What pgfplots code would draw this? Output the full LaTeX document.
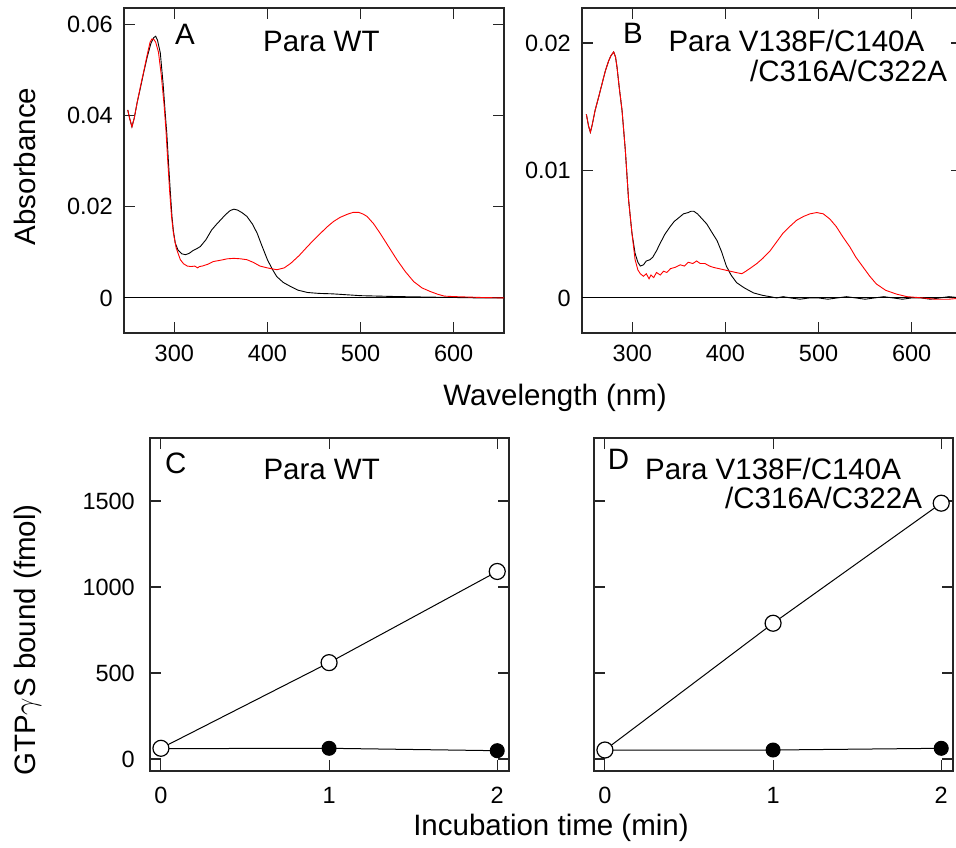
\documentclass[border=0pt]{standalone}
\usepackage{pgfplots}
\pgfplotsset{compat=1.18}
\usepackage{fontspec}
\setmainfont{Liberation Sans}
\newcommand{\lbl}{\fontsize{29.5bp}{34bp}\selectfont}
\newcommand{\tck}{\fontsize{23.5bp}{28bp}\selectfont}
\pgfplotsset{
  panel/.style={
    scale only axis,
    anchor=south west,
    axis line style={black!85, line width=1.4bp},
    tick style={black!85, line width=1.1bp},
    tick align=inside,
    major tick length=11bp,
    xtick pos=both, ytick pos=both,
    xticklabel pos=bottom, yticklabel pos=left,
    every tick label/.append style={font=\tck, inner sep=0pt, text=black},
    /pgf/number format/assume math mode=true,
    /pgf/number format/1000 sep={},
    clip=true,
  },
  spec/.style={panel, width=380bp, height=325bp, xmin=246, xmax=654,
    xtick={300,400,500,600},
    xticklabel style={yshift=-12bp},
    yticklabel style={xshift=-11bp},
  },
  gtp/.style={panel, width=359bp, height=333bp, xmin=-0.065, xmax=2.07,
    ymin=-70, ymax=1866,
    xtick={0,1,2}, ytick={0,500,1000,1500},
    xticklabel style={yshift=-16bp},
    yticklabel style={xshift=-15bp},
  },
}
\begin{document}
\begin{tikzpicture}
\useasboundingbox (0,0) rectangle (956bp,848bp);
% ---------------- Panel A ----------------
\begin{axis}[spec, at={(124bp,515bp)}, ymin=-0.0077, ymax=0.0637,
  ytick={0,0.02,0.04,0.06}, yticklabels={0,0.02,0.04,0.06}]
\addplot[black, line width=1bp] coordinates {(246,0)(654,0)};
\addplot[black, line width=0.9bp] coordinates {
(250,0.0413)(252,0.0395)(254.5,0.0376)(257,0.0395)(260,0.0428)(264,0.0465)(267,0.0494)(271,0.0530)(275,0.0560)(278,0.0572)(280,0.0575)(282,0.0566)(285,0.0538)(288,0.0470)(290,0.0413)(292,0.0360)(294,0.0289)(296,0.0225)(297.5,0.0179)(299,0.0148)(301,0.0121)(304,0.0105)(308,0.0097)(312,0.0095)(316,0.0098)(320,0.0104)(324,0.0108)(328,0.0113)(334,0.0128)(340,0.0149)(345,0.0161)(350,0.0172)(355,0.0183)(360,0.0192)(364,0.0195)(368,0.0193)(373,0.0187)(378,0.0179)(384,0.0162)(389,0.0142)(394,0.0115)(400,0.0084)(405,0.0064)(410,0.0047)(417,0.0034)(425,0.0025)(433,0.0017)(443,0.0012)(455,0.0010)(470,0.0009)(485,0.0007)(500,0.0005)(520,0.0004)(540,0.0003)(570,0.0002)(600,0.0001)(630,0.0000)(654,0.0000)};
\addplot[red, line width=0.9bp] coordinates {
(250,0.0413)(252,0.0395)(254.5,0.0376)(257,0.0395)(260,0.0428)(264,0.0468)(267,0.0496)(271,0.0535)(274,0.0562)(276,0.0569)(278,0.0568)(280,0.0562)(283,0.0540)(286,0.0490)(289,0.0425)(291,0.0370)(293,0.0300)(295,0.0235)(297,0.0180)(299,0.0143)(302,0.0110)(306.5,0.0084)(310,0.0075)(314,0.0070)(318,0.0069)(322,0.0070)(325,0.0066)(327,0.0069)(330,0.0070)(336,0.0074)(342,0.0080)(350,0.0083)(357,0.0086)(364,0.0087)(371,0.0086)(378,0.0084)(385,0.0078)(392,0.0070)(400,0.0066)(410,0.0062)(418,0.0066)(425,0.0076)(434,0.0093)(443,0.0113)(450,0.0128)(457,0.0142)(464,0.0156)(471,0.0168)(478,0.0177)(486,0.0184)(492,0.0188)(498,0.0188)(503,0.0184)(507,0.0179)(514,0.0163)(521,0.0142)(530,0.0113)(539,0.0084)(548,0.0058)(557,0.0036)(566,0.0022)(575,0.0014)(583,0.0008)(590,0.0004)(600,0.0003)(615,0.0002)(630,0.0001)(654,0.0000)};
\end{axis}
% ---------------- Panel B ----------------
\begin{axis}[spec, at={(582bp,515bp)}, ymin=-0.00275, ymax=0.02275,
  ytick={0,0.01,0.02}, yticklabels={0,0.01,0.02}]
\addplot[black, line width=1bp] coordinates {(246,0)(654,0)};
\addplot[black, line width=0.9bp] coordinates {
(250.7,0.0144)(253,0.0135)(255,0.0130)(257,0.0136)(260,0.0147)(264,0.0158)(267.5,0.0168)(271,0.0178)(274.6,0.0186)(277,0.0190)(280,0.0193)(282,0.0189)(283.6,0.0181)(286,0.0165)(289,0.0147)(292.5,0.0116)(296,0.0077)(299.6,0.0051)(303,0.0035)(306,0.0028)(308.6,0.0025)(312,0.0026)(315,0.0029)(319,0.0030)(322,0.0032)(326,0.0037)(330,0.0043)(335,0.0050)(340.7,0.0056)(345,0.0060)(350,0.0063)(355,0.0066)(360,0.0067)(363,0.0068)(366,0.0068)(370,0.0066)(375,0.0062)(380,0.0058)(385,0.0052)(391,0.0045)(396,0.0036)(401,0.0025)(406,0.0018)(412,0.0012)(420,0.0008)(430,0.0004)(440,0.0002)(448,0.0001)(455,0.0000)(462,0.0001)(470,0.0000)(480,-0.0001)(490,0.0000)(500,0.0000)(510,-0.0001)(520,0.0000)(530,0.0001)(540,0.0000)(550,-0.0001)(560,0.0000)(570,0.0001)(580,0.0000)(590,-0.0001)(600,0.0000)(610,0.0000)(620,-0.0001)(630,0.0000)(640,0.0001)(654,0.0000)};
\addplot[red, line width=0.9bp] coordinates {
(250.7,0.0144)(253,0.0135)(255,0.0130)(257,0.0136)(260,0.0147)(264,0.0158)(267.5,0.0168)(271,0.0178)(274.6,0.0186)(277,0.0190)(280,0.0193)(282,0.0189)(283.6,0.0181)(286,0.0165)(289,0.0147)(292.5,0.0116)(296,0.0077)(299.6,0.0051)(303,0.0030)(306,0.0022)(308.6,0.0019)(312,0.0017)(315,0.0019)(318,0.0015)(320,0.0018)(323,0.0016)(326,0.0020)(330,0.0018)(333.6,0.0021)(337,0.0020)(341,0.0023)(346,0.0024)(351.5,0.0026)(356,0.0025)(360,0.0028)(365,0.0027)(369,0.0029)(373,0.0027)(378,0.0027)(383,0.0025)(387,0.0024)(393,0.0023)(399,0.0022)(405,0.0021)(411,0.0020)(417.6,0.0019)(422,0.0021)(428,0.0024)(433.7,0.0027)(440,0.0031)(448,0.0037)(455,0.0044)(462,0.0051)(469,0.0056)(476.5,0.0061)(484,0.0064)(490.8,0.0066)(498,0.0067)(505,0.0066)(512,0.0062)(519,0.0056)(526,0.0048)(533.6,0.0040)(540,0.0032)(548,0.0024)(555,0.0017)(562,0.0011)(572,0.0006)(583.7,0.0003)(595,0.0001)(612,0.0000)(625,-0.0001)(640,-0.0001)(654,0.0000)};
\end{axis}
% ---------------- Panel C ----------------
\begin{axis}[gtp, at={(150bp,77bp)}]
\addplot[black, line width=1bp, mark=*, mark size=7bp, mark options={fill=black}] coordinates {(0,60)(1,62)(2,48)};
\addplot[black, line width=1bp, mark=*, mark size=8bp, mark options={fill=white, line width=1.2bp}] coordinates {(0,62)(1,560)(2,1090)};
\end{axis}
% ---------------- Panel D ----------------
\begin{axis}[gtp, at={(594bp,77bp)}, yticklabels={}]
\addplot[black, line width=1bp, mark=*, mark size=7bp, mark options={fill=black}] coordinates {(0,52)(1,52)(2,62)};
\addplot[black, line width=1bp, mark=*, mark size=8bp, mark options={fill=white, line width=1.2bp}] coordinates {(0,52)(1,789)(2,1487)};
\end{axis}
% ---------------- Texts ----------------
\begin{scope}[every node/.style={inner sep=0pt, font=\lbl}]
\node[anchor=base west] at (175bp,803bp) {A};
\node[anchor=base west] at (263bp,796.3bp) {Para WT};
\node[anchor=base west] at (623bp,804.7bp) {B};
\node[anchor=base west] at (668.3bp,796.3bp) {Para V138F/C140A};
\node[anchor=base west] at (750bp,766.3bp) {/C316A/C322A};
\node[anchor=base west] at (165bp,374.7bp) {C};
\node[anchor=base west] at (263.3bp,368bp) {Para WT};
\node[anchor=base west] at (607.7bp,378bp) {D};
\node[anchor=base west] at (645bp,368bp) {Para V138F/C140A};
\node[anchor=base west] at (725bp,339.7bp) {/C316A/C322A};
\node[anchor=base] at (555bp,442bp) {Wavelength (nm)};
\node[anchor=base] at (551bp,13bp) {Incubation time (min)};
\node[anchor=base, rotate=90] at (35bp,681.5bp) {Absorbance};
\node[anchor=base, rotate=90] at (35bp,208bp) {GTP\scalebox{1.25}{$\gamma$}S bound (fmol)};
\end{scope}
\end{tikzpicture}
\end{document}
